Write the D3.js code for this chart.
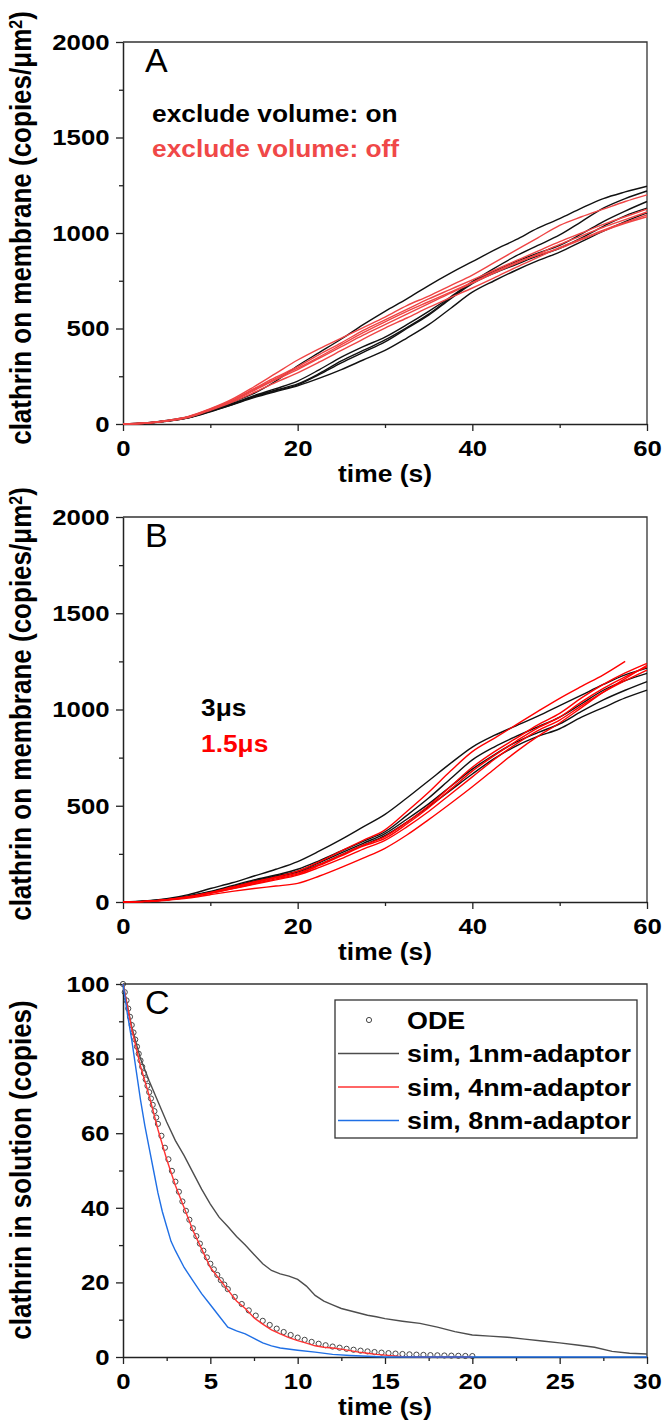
<!DOCTYPE html>
<html lang="en">
<head>
<meta charset="UTF-8">
<title>Clathrin panels</title>
<script src="https://d3js.org/d3.v7.min.js"></script>
<style>
  body { margin: 0; background: #fff; }
  svg { display: block; font-family: "Liberation Sans", Arial, sans-serif; }
  .domain { stroke: #222; stroke-width: 1.5; }
  .tick line { stroke: #222; stroke-width: 1.3; }
</style>
</head>
<body>
<script>
// ---- data ----
const timeAB = [0,2.5,5,7.5,10,12.5,15,17.5,20,22.5,25,27.5,30,32.5,35,37.5,40,42.5,45,47.5,50,52.5,55,57.5,60];

// panel A, excluded volume on (black)
const volOn = [
  [0,5,18,38,72,115,160,225,305,375,445,520,590,655,725,790,850,910,965,1025,1075,1130,1180,1215,1245],
  [0,4,16,35,68,105,148,185,225,285,350,405,455,520,590,665,745,815,880,935,990,1060,1130,1180,1220],
  [0,4,15,33,66,102,142,178,210,265,330,385,440,505,575,660,740,800,850,895,935,995,1060,1115,1165],
  [0,5,17,34,70,108,145,175,205,260,320,375,430,500,570,655,735,790,835,880,920,975,1035,1090,1130],
  [0,3,14,32,64,100,138,170,200,240,285,335,385,450,520,605,690,750,805,855,900,955,1010,1060,1105]
];
// panel A, excluded volume off (red)
const volOff = [
  [0,5,18,40,80,130,195,265,335,395,450,505,560,620,670,725,780,845,910,975,1040,1085,1125,1165,1200],
  [0,4,17,38,78,125,185,245,300,365,425,490,545,600,655,705,755,805,855,905,955,1000,1045,1085,1125],
  [0,4,16,36,75,120,175,232,285,345,405,465,520,575,630,685,737,790,840,890,940,985,1030,1070,1110],
  [0,4,15,34,72,115,165,218,268,325,385,445,502,555,610,662,712,765,820,872,925,970,1015,1055,1095],
  [0,5,16,37,76,122,180,238,292,352,415,478,535,590,640,690,742,795,845,885,920,965,1010,1050,1085]
];
// panel B, 3 us time step (black)
const step3 = [
  [0,5,17,38,70,100,135,170,210,265,325,390,455,540,630,720,805,865,915,965,1020,1075,1130,1180,1215],
  [0,4,14,32,55,85,115,140,170,215,265,315,365,450,540,640,738,805,860,910,960,1030,1100,1150,1188],
  [0,4,13,30,52,80,110,135,160,205,255,305,355,430,510,600,690,765,830,880,925,990,1050,1100,1145],
  [0,3,12,28,50,78,105,130,155,195,245,295,345,415,495,580,665,745,810,860,900,960,1010,1060,1101]
];
// panel B, 1.5 us time step (red); first run stops at 57.5 s
const step15 = [
  [0,3,12,28,50,78,105,130,160,210,265,320,375,470,570,680,781,850,920,990,1058,1120,1180,1250],
  [0,3,12,27,48,74,100,125,150,195,245,295,340,415,500,600,700,780,850,920,980,1060,1130,1190,1240],
  [0,3,11,26,46,70,95,120,145,190,240,290,330,405,490,585,680,760,835,905,960,1040,1110,1170,1222],
  [0,3,11,25,45,68,92,115,140,180,225,275,320,390,470,560,650,740,820,890,945,1020,1090,1150,1205],
  [0,2,9,20,38,55,70,83,97,135,180,228,279,348,428,512,599,690,780,860,930,1010,1090,1160,1230]
];

// panel C: [time, copies]
const ode = [
  [0,100],[0.1,97.8],[0.2,95.6],[0.3,93.4],[0.4,91.2],[0.5,89],[0.6,87],[0.7,85.1],[0.8,83.2],[0.9,81.3],
  [1,79.5],[1.1,77.8],[1.2,76.1],[1.3,74.4],[1.4,72.7],[1.5,71],[1.6,69.3],[1.7,67.6],[1.8,65.9],[1.9,64.2],
  [2,62.5],[2.2,59.3],[2.4,56.1],[2.6,53],[2.8,49.9],[3,47],[3.2,44.3],[3.4,41.7],[3.6,39.2],[3.8,36.8],
  [4,34.5],[4.2,32.4],[4.4,30.4],[4.6,28.5],[4.8,26.7],[5,25],[5.2,23.5],[5.4,22],[5.6,20.6],[5.8,19.4],
  [6,18.2],[6.4,16.1],[6.8,14.2],[7.2,12.5],[7.6,11.1],[8,9.7],[8.4,8.6],[8.8,7.6],[9.2,6.7],[9.6,5.9],
  [10,5.2],[10.4,4.6],[10.8,4.05],[11.2,3.55],[11.6,3.15],[12,2.8],[12.4,2.5],[12.8,2.2],[13.2,1.95],[13.6,1.7],
  [14,1.5],[14.4,1.33],[14.8,1.17],[15.2,1.03],[15.6,0.91],[16,0.8],[16.4,0.71],[16.8,0.63],[17.2,0.56],[17.6,0.5],
  [18,0.45],[18.4,0.4],[18.8,0.36],[19.2,0.32],[19.6,0.28],[20,0.25]
];
const sim1nm = [
  [0,100],[0.5,88.5],[1,80],[1.5,74],[2,68.5],[2.5,63],[3,58],[3.5,54],[4,49.5],[4.5,45],[5,41],[5.5,37.5],
  [6,35],[6.5,32.3],[7,30],[7.5,27.5],[8,25],[8.5,23.2],[9,22.3],[9.5,21.7],[10,20.8],[10.5,19],[11,16.5],
  [11.5,15],[12,14],[12.5,13],[13,12.4],[13.5,11.8],[14,11.2],[14.5,10.8],[15,10.3],[16,9.6],[17,9],[18,8],
  [19,6.8],[20,5.9],[21,5.6],[22,5.3],[23,4.8],[24,4.3],[25,3.8],[26,3.2],[27,2.6],[28,1.5],[29,1],[30,0.8]
];
const sim4nm = [
  [0,100],[0.5,88],[1,78],[1.5,70],[2,61],[2.5,53],[3,46],[3.5,40],[4,34],[4.5,29],[5,24],[5.5,21],[6,18],
  [6.5,15],[7,13],[7.5,10.5],[8,8.8],[8.5,7.3],[9,6.2],[9.5,5.2],[10,4.4],[10.5,3.7],[11,3],[11.5,2.6],[12,2.4],
  [12.5,2.1],[13,1.7],[13.5,1.3],[14,1],[14.5,0.7],[15,0.5],[15.5,0.3],[16,0.1],[17,0],[20,0]
];
const sim8nm = [
  [0,100],[0.25,92],[0.5,85],[0.75,77],[1,69],[1.25,62],[1.5,56],[1.75,50],[2,44],[2.25,39],[2.5,35],
  [2.75,31],[3,28.5],[3.5,24],[4,20.5],[4.5,17],[5,14],[5.5,11],[6,8],[6.5,7],[7,6.2],[7.5,5],[8,3.8],
  [8.5,3],[9,2.4],[10,1.8],[11,1.3],[12,0.7],[13,0.4],[14,0.2],[15,0],[30,0]
];

const ticksAB = { xMajor: [0,20,40,60], xMinor: [10,30,50], yMajor: [0,500,1000,1500,2000], yMinor: [250,750,1250,1750] };
const ticksC = { xMajor: [0,5,10,15,20,25,30], xMinor: [2.5,7.5,12.5,17.5,22.5,27.5], yMajor: [0,20,40,60,80,100], yMinor: [10,30,50,70,90] };

const legendC = ["ODE", "sim, 1nm-adaptor", "sim, 4nm-adaptor", "sim, 8nm-adaptor"];

// ---- layout ----
const W = 665, H = 1423;
const L = 123, R = 647;
const SX = 1.12; // glyphs in the figure are a bit wider than Arial

const svg = d3.select("body").append("svg").attr("width", W).attr("height", H);

function label(g, x, y, str, size, opt = {}) {
  return g.append("text")
    .attr("transform", `translate(${x},${y}) scale(${opt.sx ?? SX},1)` + (opt.rotate ? ` rotate(${opt.rotate})` : ""))
    .attr("text-anchor", opt.anchor || "start")
    .attr("font-size", size)
    .attr("font-weight", opt.weight || "bold")
    .attr("fill", opt.color || "#000")
    .text(str);
}

function styleAxis(sel) {
  sel.attr("font-size", null).attr("font-family", null);
  sel.selectAll("text")
    .attr("font-size", 23).attr("font-weight", "bold").attr("fill", "#000")
    .attr("transform", `scale(${SX},1)`);
}

function panel(p, t) {
  const x = d3.scaleLinear().domain(p.xDomain).range([L, R]);
  const y = d3.scaleLinear().domain(p.yDomain).range([p.bottom, p.top]);
  const g = svg.append("g");

  // frame (top + right)
  g.append("path")
    .attr("d", `M${L},${p.top}H${R}V${p.bottom}`)
    .attr("fill", "none").attr("stroke", "#333").attr("stroke-width", 1.3);

  g.append("g").attr("transform", `translate(0,${p.bottom})`)
    .call(d3.axisBottom(x).tickValues(t.xMinor).tickSize(4).tickFormat(""))
    .call(s => s.select(".domain").remove());
  g.append("g").attr("transform", `translate(0,${p.bottom})`)
    .call(d3.axisBottom(x).tickValues(t.xMajor).tickSize(7).tickSizeOuter(0).tickPadding(9).tickFormat(d3.format("d")))
    .call(styleAxis);

  g.append("g").attr("transform", `translate(${L},0)`)
    .call(d3.axisLeft(y).tickValues(t.yMinor).tickSize(4).tickFormat(""))
    .call(s => s.select(".domain").remove());
  g.append("g").attr("transform", `translate(${L},0)`)
    .call(d3.axisLeft(y).tickValues(t.yMajor).tickSize(7).tickSizeOuter(0).tickPadding(5).tickFormat(d3.format("d")))
    .call(styleAxis);

  // axis titles
  label(g, (L + R) / 2, p.bottom + 58, "time (s)", 24, { anchor: "middle", sx: 1.1 });
  const yt = g.append("text")
    .attr("transform", `translate(31,${p.titleY}) scale(1.1,1) rotate(-90)`)
    .attr("text-anchor", "middle")
    .attr("font-size", 26).attr("font-weight", "bold");
  yt.append("tspan").text(p.yTitle);
  if (p.sup) {
    yt.append("tspan").attr("font-size", 16).attr("baseline-shift", "super").text(p.sup);
    yt.append("tspan").text(")");
  }

  label(g, 145, p.top + p.letterDy, p.letter, 34, { weight: "normal", sx: 1 });
  return { g, x, y };
}

// ---- panel A ----
const pA = panel({ top: 42, bottom: 424, xDomain: [0, 60], yDomain: [0, 2000], letter: "A", letterDy: 30,
  yTitle: "clathrin on membrane (copies/\u03bcm", sup: "2", titleY: 228 }, ticksAB);
const lineA = d3.line().x((d, i) => pA.x(timeAB[i])).y(d => pA.y(d)).curve(d3.curveMonotoneX);
pA.g.selectAll(".on").data(volOn).join("path")
  .attr("d", lineA).attr("fill", "none").attr("stroke", "#111").attr("stroke-width", 1.4);
pA.g.selectAll(".off").data(volOff).join("path")
  .attr("d", lineA).attr("fill", "none").attr("stroke", "#ef4444").attr("stroke-width", 1.4);
label(pA.g, 152, 122, "exclude volume: on", 23.5);
label(pA.g, 152, 157, "exclude volume: off", 23.5, { color: "#f04848" });

// ---- panel B ----
const pB = panel({ top: 517, bottom: 902, xDomain: [0, 60], yDomain: [0, 2000], letter: "B", letterDy: 30,
  yTitle: "clathrin on membrane (copies/\u03bcm", sup: "2", titleY: 704 }, ticksAB);
const lineB = d3.line().x((d, i) => pB.x(timeAB[i])).y(d => pB.y(d)).curve(d3.curveMonotoneX);
pB.g.selectAll(".s3").data(step3).join("path")
  .attr("d", lineB).attr("fill", "none").attr("stroke", "#111").attr("stroke-width", 1.4);
pB.g.selectAll(".s15").data(step15).join("path")
  .attr("d", lineB).attr("fill", "none").attr("stroke", "#ff0000").attr("stroke-width", 1.4);
label(pB.g, 201, 716, "3\u03bcs", 23.5);
label(pB.g, 201, 752, "1.5\u03bcs", 23.5, { color: "#ff0000" });

// ---- panel C ----
const pC = panel({ top: 984, bottom: 1357, xDomain: [0, 30], yDomain: [0, 100], letter: "C", letterDy: 30,
  yTitle: "clathrin in solution (copies)", titleY: 1170 }, ticksC);
const lineC = d3.line().x(d => pC.x(d[0])).y(d => pC.y(d[1]));
pC.g.selectAll(".ode").data(ode).join("circle")
  .attr("cx", d => pC.x(d[0])).attr("cy", d => pC.y(d[1])).attr("r", 2.6)
  .attr("fill", "none").attr("stroke", "#333").attr("stroke-width", 0.9);
const simSeries = [
  { data: sim1nm, color: "#4d4d4d" },
  { data: sim4nm, color: "#ff3333" },
  { data: sim8nm, color: "#1f6fe5" }
];
pC.g.selectAll(".sim").data(simSeries).join("path")
  .attr("d", d => lineC(d.data)).attr("fill", "none")
  .attr("stroke", d => d.color).attr("stroke-width", 1.4);

// legend box
const lg = pC.g.append("g");
lg.append("rect").attr("x", 335).attr("y", 1000).attr("width", 302).attr("height", 138)
  .attr("fill", "#fff").attr("stroke", "#333").attr("stroke-width", 1.3);
legendC.forEach((name, i) => {
  const cy = 1020 + i * 33.5;
  if (i === 0) {
    lg.append("circle").attr("cx", 369).attr("cy", cy).attr("r", 2.6)
      .attr("fill", "none").attr("stroke", "#333").attr("stroke-width", 0.9);
  } else {
    lg.append("line").attr("x1", 338).attr("x2", 399).attr("y1", cy).attr("y2", cy)
      .attr("stroke", simSeries[i - 1].color).attr("stroke-width", 1.6);
  }
  label(lg, 407, cy + 8.5, name, 24);
});
</script>
</body>
</html>
